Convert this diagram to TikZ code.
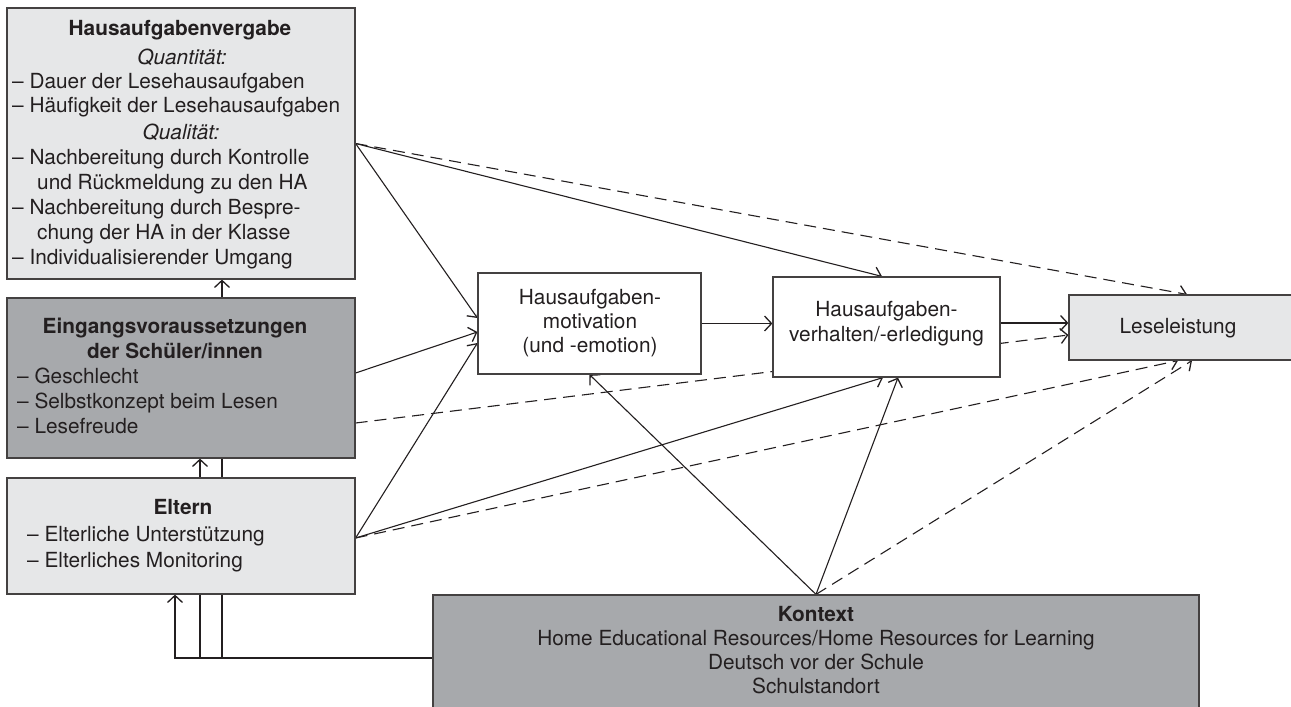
\documentclass[tikz,border=0pt]{standalone}
\usepackage{fontspec}
\setmainfont{TeX Gyre Heros}
\usetikzlibrary{arrows.meta,backgrounds}
\definecolor{lgray}{HTML}{E6E7E8}
\definecolor{dgray}{HTML}{A7A9AC}
\definecolor{ink}{HTML}{231F20}
\begin{document}
\begin{tikzpicture}[x=1pt,y=-1pt,
  box/.style={draw=ink!85, line width=1.2pt, rectangle, inner sep=0pt},
  txt/.style={inner sep=0pt, text=ink, font=\fontsize{20.8}{25}\selectfont},
  hd/.style={txt, font=\fontsize{20.8}{25}\selectfont\bfseries},
  itl/.style={txt, font=\fontsize{20.8}{25}\selectfont\itshape},
  conn/.style={draw=ink, line width=1.1pt},
  arr/.style={conn, -{Straight Barb[length=7pt,width=15pt,line width=1.3pt]}},
  darr/.style={arr, dash pattern=on 12pt off 7pt},
]
\useasboundingbox (0,0) rectangle (1291,707);

% boxes
\node[box, fill=lgray, minimum width=348pt, minimum height=271pt] (HA) at (181,143.5) {};
\node[box, fill=dgray, minimum width=348pt, minimum height=160pt] (EV) at (181,378) {};
\node[box, fill=lgray, minimum width=348pt, minimum height=116pt] (El) at (181,536) {};
\node[box, fill=white, minimum width=223pt, minimum height=101pt] (Mot) at (589.5,323.5) {};
\node[box, fill=white, minimum width=227pt, minimum height=100pt] (Ver) at (886.5,327) {};
\node[box, fill=lgray, minimum width=224pt, minimum height=65pt] (Les) at (1181,327.5) {};
\node[box, fill=dgray, minimum width=766pt, minimum height=165pt] (Kon) at (816,677.5) {};

% texts: Hausaufgabenvergabe
\node[hd, anchor=base] (ha1) at (180,35) {Hausaufgabenvergabe};
\node[itl, anchor=base] (ha2) at (182,64) {Quantität:};
\node[txt, anchor=base west] (ha3) at (12,88) {– Dauer der Lesehausaufgaben};
\node[txt, anchor=base west] (ha4) at (12,112) {– Häufigkeit der Lesehausaufgaben};
\node[itl, anchor=base] (ha5) at (181,139) {Qualität:};
\node[txt, anchor=base west] (ha6) at (12,164) {– Nachbereitung durch Kontrolle};
\node[txt, anchor=base west] (ha7) at (37,189) {und Rückmeldung zu den HA};
\node[txt, anchor=base west] (ha8) at (12,214) {– Nachbereitung durch Bespre-};
\node[txt, anchor=base west] (ha9) at (37,239) {chung der HA in der Klasse};
\node[txt, anchor=base west] (ha10) at (12,264) {– Individualisierender Umgang};

% Eingangsvoraussetzungen
\node[hd, anchor=base] (ev1) at (175,333) {Eingangsvoraussetzungen};
\node[hd, anchor=base] (ev2) at (175,358) {der Schüler/innen};
\node[txt, anchor=base west] (ev3) at (17,383) {– Geschlecht};
\node[txt, anchor=base west] (ev4) at (17,408) {– Selbstkonzept beim Lesen};
\node[txt, anchor=base west] (ev5) at (17,433) {– Lesefreude};

% Eltern
\node[hd, anchor=base] (el1) at (183,514) {Eltern};
\node[txt, anchor=base west] (el2) at (27,541) {– Elterliche Unterstützung};
\node[txt, anchor=base west] (el3) at (27,567) {– Elterliches Monitoring};

% Motivation / Verhalten / Leseleistung
\node[txt, anchor=base] (mo1) at (590,304) {Hausaufgaben-};
\node[txt, anchor=base] (mo2) at (590,328) {motivation};
\node[txt, anchor=base] (mo3) at (590,352) {(und -emotion)};
\node[txt, anchor=base] (ve1) at (886.5,316) {Hausaufgaben-};
\node[txt, anchor=base] (ve2) at (886.5,341) {verhalten/-erledigung};
\node[txt, anchor=base] (le1) at (1178,333) {Leseleistung};

% Kontext
\node[hd, anchor=base] (ko1) at (816,621) {Kontext};
\node[txt, anchor=base] (ko2) at (816,645) {Home Educational Resources/Home Resources for Learning};
\node[txt, anchor=base] (ko3) at (816,669) {Deutsch vor der Schule};
\node[txt, anchor=base] (ko4) at (816,693) {Schulstandort};

% junction coordinates
\coordinate (kw) at ([yshift=19.5pt]Kon.west);
\coordinate (k1) at (175,658);
\coordinate (k2) at (200,658);
\coordinate (k3) at (222,658);

\begin{scope}[on background layer]
  % Hausaufgabenvergabe
  \draw[arr] (HA.east) -- ([yshift=5.5pt]Mot.west);
  \draw[arr] (HA.east) -- ([xshift=-4.5pt]Ver.north);
  \draw[darr] (HA.east) -- ([xshift=6pt]Les.north);
  % Eingangsvoraussetzungen
  \draw[arr] ([yshift=5pt]EV.east) -- ([yshift=-8.5pt]Mot.west);
  \draw[darr] ([yshift=-45pt]EV.east) -- ([yshift=-7.5pt]Les.west);
  % Eltern
  \draw[arr] ([yshift=-2pt]El.east) -- ([yshift=-19.5pt]Mot.west);
  \draw[arr] ([yshift=-2pt]El.east) -- ([xshift=-3.5pt]Ver.south);
  \draw[darr] ([yshift=-2pt]El.east) -- ([xshift=-3pt]Les.south);
  % Kontext
  \draw[arr] (Kon.north) -- (Mot.south);
  \draw[arr] (Kon.north) -- ([xshift=11.5pt]Ver.south);
  \draw[darr] (Kon.north) -- ([xshift=11pt]Les.south);
  % chain
  \draw[arr] (Mot.east) -- (Ver.west |- Mot.east);
  \draw[arr] ([yshift=4pt]Ver.east) -- ([yshift=4.5pt]Les.west);
  % Kontext to left column
  \draw[arr] (kw) -| (k1 |- El.south);
  \draw[arr] (k2) -- (k2 |- EV.south);
  \draw[arr] (k3) -- (k3 |- HA.south);
\end{scope}
\end{tikzpicture}
\end{document}
